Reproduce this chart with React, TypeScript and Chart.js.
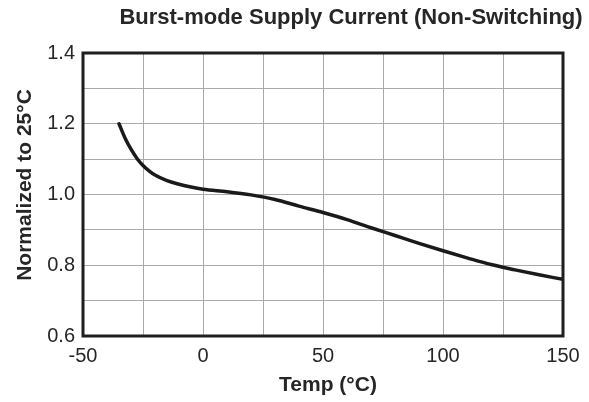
import React, { useEffect, useRef } from "react";
import { Chart, registerables } from "chart.js";

Chart.register(...registerables);

const CHART_TITLE = "Burst-mode Supply Current (Non-Switching)";
const X_TITLE = "Temp (°C)";
const Y_TITLE = "Normalized to 25°C";

const temps = [-35, -32.5, -30, -27.5, -25, -22.5, -20, -15, -10, -5, 0, 10, 20, 30, 40, 50, 60, 70, 80, 90, 100, 110, 120, 130, 140, 150];
const normalized = [1.2, 1.16, 1.128, 1.102, 1.082, 1.067, 1.055, 1.039, 1.029, 1.021, 1.015, 1.008, 0.999, 0.986, 0.967, 0.949, 0.929, 0.906, 0.884, 0.862, 0.841, 0.821, 0.802, 0.787, 0.773, 0.76];

const xGridValues = [-50, -25, 0, 25, 50, 75, 100, 125, 150];
const xTickLabels = ["-50", "", "0", "", "50", "", "100", "", "150"];
const yGridValues = [0.6, 0.7, 0.8, 0.9, 1.0, 1.1, 1.2, 1.3, 1.4];
const yTickLabels = ["0.6", "", "0.8", "", "1.0", "", "1.2", "", "1.4"];

const FONT = "'Liberation Sans', Arial, Helvetica, sans-serif";
const TEXT_COLOR = "#262626";
const GRID_COLOR = "#a9a9a9";

const framePlugin = {
  id: "frameAndTitles",
  afterDraw(chart: any) {
    const { ctx, chartArea } = chart;
    ctx.save();
    ctx.strokeStyle = "#1e1e1e";
    ctx.lineWidth = 3;
    ctx.strokeRect(chartArea.left, chartArea.top, chartArea.right - chartArea.left, chartArea.bottom - chartArea.top);

    ctx.fillStyle = TEXT_COLOR;
    ctx.textAlign = "center";
    ctx.textBaseline = "middle";
    ctx.font = `bold 22px ${FONT}`;
    ctx.fillText(CHART_TITLE, 351, 18);

    ctx.font = `bold 21px ${FONT}`;
    ctx.fillText(X_TITLE, 328, 385);

    ctx.translate(25, 185);
    ctx.rotate(-Math.PI / 2);
    ctx.fillText(Y_TITLE, 0, 0);
    ctx.restore();
  },
};

export default function App() {
  const canvasRef = useRef<HTMLCanvasElement | null>(null);

  useEffect(() => {
    if (!canvasRef.current) return;
    const chart = new Chart(canvasRef.current, {
      type: "line",
      data: {
        datasets: [
          {
            data: temps.map((t, i) => ({ x: t, y: normalized[i] })),
            borderColor: "#1a1a1a",
            borderWidth: 3.5,
            pointRadius: 0,
            cubicInterpolationMode: "monotone",
            borderCapStyle: "round",
            borderJoinStyle: "round",
            fill: false,
          },
        ],
      },
      options: {
        animation: false,
        responsive: false,
        events: [],
        layout: { padding: { top: 53, right: 26, bottom: 0, left: 0 } },
        plugins: {
          legend: { display: false },
          title: { display: false },
          tooltip: { enabled: false },
        },
        scales: {
          x: {
            type: "linear",
            min: -50,
            max: 150,
            afterBuildTicks: (s: any) => {
              s.ticks = xGridValues.map((v) => ({ value: v }));
            },
            afterFit: (s: any) => {
              s.height = 66;
            },
            ticks: {
              autoSkip: false,
              maxRotation: 0,
              padding: 8,
              color: TEXT_COLOR,
              font: { family: FONT, size: 20 },
              callback: (_v: any, i: number) => xTickLabels[i],
            },
            grid: { color: GRID_COLOR, lineWidth: 1, drawTicks: false },
            border: { display: false },
          },
          y: {
            type: "linear",
            min: 0.6,
            max: 1.4,
            afterBuildTicks: (s: any) => {
              s.ticks = yGridValues.map((v) => ({ value: v }));
            },
            afterFit: (s: any) => {
              s.width = 83;
            },
            ticks: {
              autoSkip: false,
              padding: 8,
              color: TEXT_COLOR,
              font: { family: FONT, size: 20 },
              callback: (_v: any, i: number) => yTickLabels[i],
            },
            grid: { color: GRID_COLOR, lineWidth: 1, drawTicks: false },
            border: { display: false },
          },
        },
      },
      plugins: [framePlugin],
    });
    return () => chart.destroy();
  }, []);

  return (
    <div style={{ position: "fixed", left: 0, top: 0, width: 589, height: 402, background: "#fff" }}>
      <canvas ref={canvasRef} width={589} height={402} style={{ display: "block" }} />
    </div>
  );
}
